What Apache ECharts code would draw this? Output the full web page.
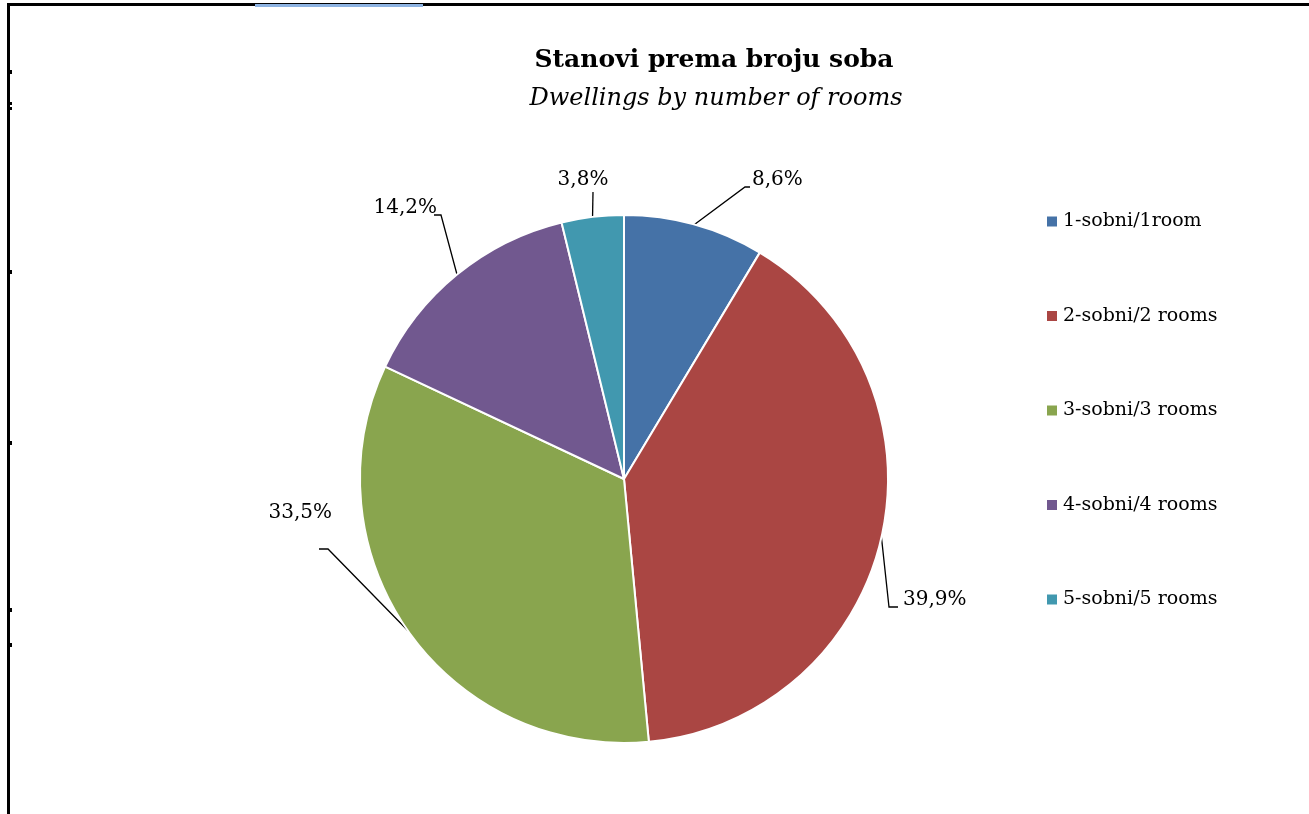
<!DOCTYPE html>
<html>
<head>
<meta charset="utf-8">
<script src="https://cdn.jsdelivr.net/npm/echarts@6/dist/echarts.min.js"></script>
<style>
html,body{margin:0;padding:0;background:#fff;}
#chart{width:1309px;height:814px;}
</style>
</head>
<body>
<div id="chart"></div>
<script>
const categories = ['1-sobni/1room', '2-sobni/2 rooms', '3-sobni/3 rooms', '4-sobni/4 rooms', '5-sobni/5 rooms'];
const values = [8.6, 39.9, 33.5, 14.2, 3.8];
const colors = ['#4572A7', '#AA4643', '#89A54E', '#71588F', '#4198AF'];
const titleText = 'Stanovi prema broju soba';
const subtitleText = 'Dwellings by number of rooms';

// label placement (layout only): text anchor and leader-line bends, per slice
const labelLayoutSpec = [
  { x: 752, y: 180, align: 'left',  pts: [[745, 187], [750, 187]] },
  { x: 903, y: 600, align: 'left',  pts: [[889, 607], [898, 607]] },
  { x: 332, y: 513, align: 'right', pts: [[328, 549], [319, 549]] },
  { x: 437, y: 208, align: 'right', pts: [[441, 215], [434, 215]] },
  { x: 583, y: 180, align: 'center', pts: [[593, 192]] }
];

const FONT = '"DejaVu Serif", "Liberation Serif", serif';
const chart = echarts.init(document.getElementById('chart'));
chart.setOption({
  animation: false,
  backgroundColor: '#fff',
  color: colors,
  title: [
    { text: titleText, left: 709, top: 43, textAlign: 'center',
      textStyle: { fontFamily: FONT, fontSize: 25, fontWeight: 'bold', color: '#000' } },
    { text: subtitleText, left: 711, top: 82, textAlign: 'center',
      textStyle: { fontFamily: FONT, fontSize: 24, fontStyle: 'italic', fontWeight: 'normal', color: '#000' } }
  ],
  legend: {
    orient: 'vertical', left: 1040, top: 207,
    itemWidth: 12, itemHeight: 12, itemGap: 75.5,
    icon: 'rect',
    textStyle: { fontFamily: FONT, fontSize: 19, color: '#000' },
    data: categories
  },
  graphic: [
    { type: 'rect', shape: { x: 7, y: 3, width: 1302, height: 3 }, style: { fill: '#000' } },
    { type: 'rect', shape: { x: 7, y: 3, width: 3, height: 811 }, style: { fill: '#000' } },
    { type: 'rect', shape: { x: 255, y: 4, width: 168, height: 3 }, style: { fill: '#8DB3E2' } },
    { type: 'rect', shape: { x: 10, y: 70, width: 2, height: 4 }, style: { fill: '#000' } },
    { type: 'rect', shape: { x: 10, y: 102, width: 2, height: 3 }, style: { fill: '#000' } },
    { type: 'rect', shape: { x: 10, y: 107, width: 2, height: 3 }, style: { fill: '#000' } },
    { type: 'rect', shape: { x: 10, y: 270, width: 2, height: 4 }, style: { fill: '#000' } },
    { type: 'rect', shape: { x: 10, y: 441, width: 2, height: 4 }, style: { fill: '#000' } },
    { type: 'rect', shape: { x: 10, y: 608, width: 2, height: 4 }, style: { fill: '#000' } },
    { type: 'rect', shape: { x: 10, y: 643, width: 2, height: 4 }, style: { fill: '#000' } }
  ],
  series: [{
    type: 'pie',
    center: [624, 479],
    radius: 264,
    startAngle: 90,
    clockwise: true,
    avoidLabelOverlap: false,
    itemStyle: { borderColor: '#fff', borderWidth: 2 },
    label: {
      show: true, position: 'outside',
      formatter: p => p.value.toFixed(1).replace('.', ',') + '%',
      fontFamily: FONT, fontSize: 20, color: '#000'
    },
    labelLine: { show: true, length: 18, length2: 10, lineStyle: { color: '#000', width: 1.3 } },
    labelLayout: function (params) {
      const s = labelLayoutSpec[params.dataIndex];
      const start = params.labelLinePoints ? params.labelLinePoints[0] : null;
      const out = { x: s.x, y: s.y, align: s.align, verticalAlign: 'middle' };
      if (start) out.labelLinePoints = [start].concat(s.pts);
      return out;
    },
    emphasis: { disabled: true },
    data: categories.map((c, i) => ({ name: c, value: values[i] }))
  }]
});
</script>
</body>
</html>
